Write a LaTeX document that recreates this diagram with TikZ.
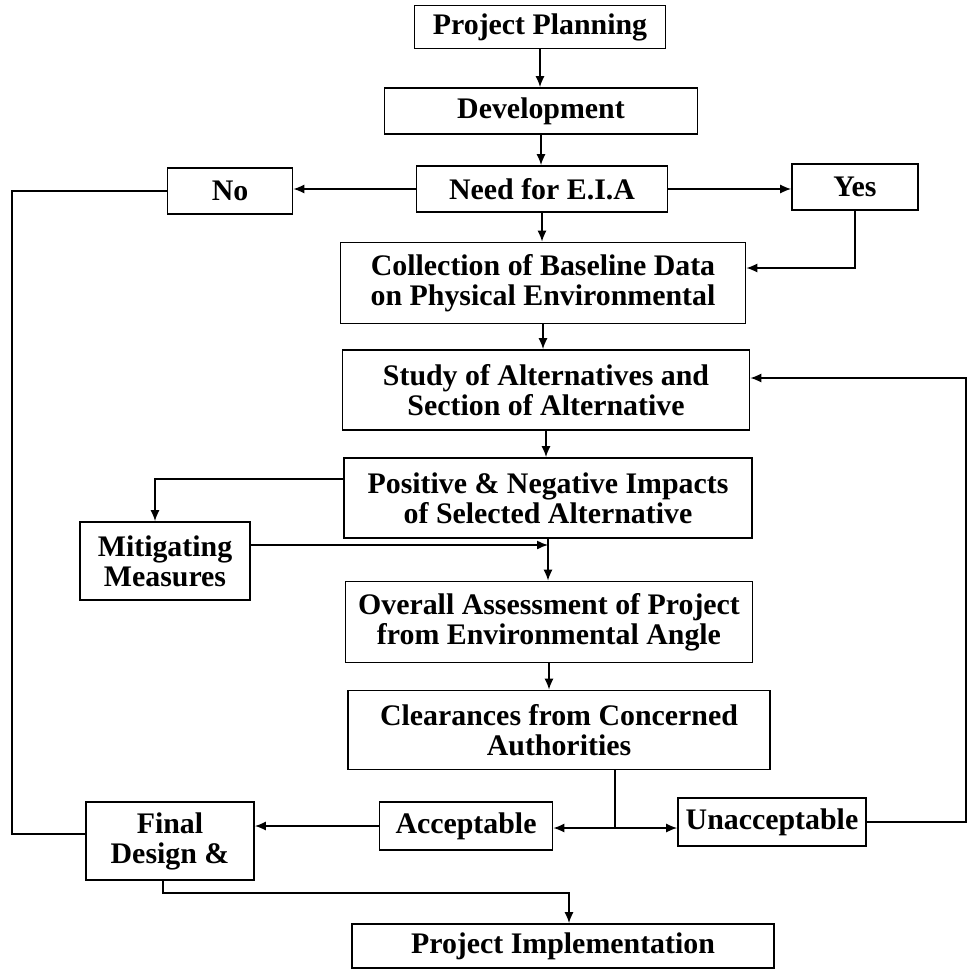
\documentclass[tikz,border=0pt]{standalone}
\usepackage{fontspec}
\setmainfont{Liberation Serif}
\usetikzlibrary{positioning,arrows.meta}

\begin{document}
\begin{tikzpicture}[
  x=0.02cm, y=-0.02cm,
  box/.style={draw, line width=1pt, align=center, inner sep=1pt,
    font=\bfseries\fontsize{17}{17}\selectfont},
  msg/.style={-{Latex[length=2.2mm,width=1.8mm]}, line width=0.8pt},
  link/.style={line width=0.8pt}
]
\useasboundingbox (0,0) rectangle (968,969);
% main column
\node[box, minimum width=5.02cm, minimum height=0.86cm] (plan) at (540,27) {Project Planning};
\node[box, minimum width=6.26cm, minimum height=0.92cm] (dev) at (541,111) {Development};
\node[box, minimum width=5.02cm, minimum height=0.92cm] (need) at (542,189) {Need for E.I.A};
\node[box, minimum width=2.5cm, minimum height=0.92cm] (no) at (230,191) {No};
\node[box, minimum width=2.52cm, minimum height=0.92cm] (yes) at (855,187) {Yes};
\node[box, minimum width=8.1cm, minimum height=1.62cm] (coll) at (543,283) {Collection of Baseline Data\\on Physical Environmental};
\node[box, minimum width=8.14cm, minimum height=1.6cm] (study) at (546,390) {Study of Alternatives and\\Section of Alternative};
\node[box, minimum width=8.16cm, minimum height=1.6cm] (impact) at (548,498) {Positive \& Negative Impacts\\of Selected Alternative};
\node[box, minimum width=3.4cm, minimum height=1.56cm] (mitig) at (165,561) {Mitigating\\Measures};
\node[box, minimum width=8.14cm, minimum height=1.62cm] (overall) at (549,622) {Overall Assessment of Project\\from Environmental Angle};
\node[box, minimum width=8.44cm, minimum height=1.58cm] (clear) at (559,730) {Clearances from Concerned\\Authorities};
\node[box, minimum width=3.46cm, minimum height=0.96cm] (accept) at (466,826) {Acceptable};
\node[box, minimum width=3.76cm, minimum height=0.96cm] (unaccept) at (772,822) {Unacceptable};
\node[box, minimum width=3.36cm, minimum height=1.56cm] (final) at (170,841) {Final\\Design \&};
\node[box, minimum width=8.44cm, minimum height=0.88cm] (impl) at (563,946) {Project Implementation};
% bends
\coordinate (split) at (615,828);
\coordinate (loopR) at (966,378);
\coordinate (loopL) at (12,191);
\coordinate (bend) at (569,893);
% connectors
\draw[msg] (plan.south) -- (plan.south |- dev.north);
\draw[msg] (dev.south) -- (dev.south |- need.north);
\draw[msg] (need.west) -- (need.west -| no.east);
\draw[msg] (need.east) -- (need.east -| yes.west);
\draw[msg] (yes.south) |- ([yshift=0.3cm]coll.east);
\draw[msg] (need.south) -- (need.south |- coll.north);
\draw[msg] (coll.south) -- (coll.south |- study.north);
\draw[msg] (study.south) -- (study.south |- impact.north);
\draw[msg] ([yshift=0.38cm]impact.west) -| ([xshift=-0.2cm]mitig.north);
\draw[msg] ([yshift=0.32cm]mitig.east) -- ([yshift=0.32cm]mitig.east -| impact.south);
\draw[msg] (impact.south) -- (impact.south |- overall.north);
\draw[msg] (overall.south) -- (overall.south |- clear.north);
\draw[link] (clear.south -| split) -- (split);
\draw[msg] (split) -- (split -| accept.east);
\draw[msg] (split) -- (split -| unaccept.west);
\draw[msg] (unaccept.east) -| (loopR) -- (loopR -| study.east);
\draw[msg] (accept.west) -- (accept.west -| final.east);
\draw[link] (no.west) -- (loopL) |- ([yshift=0.14cm]final.west);
\draw[msg] ([xshift=-0.14cm]final.south) |- (bend) -- (bend |- impl.north);
\end{tikzpicture}
\end{document}
